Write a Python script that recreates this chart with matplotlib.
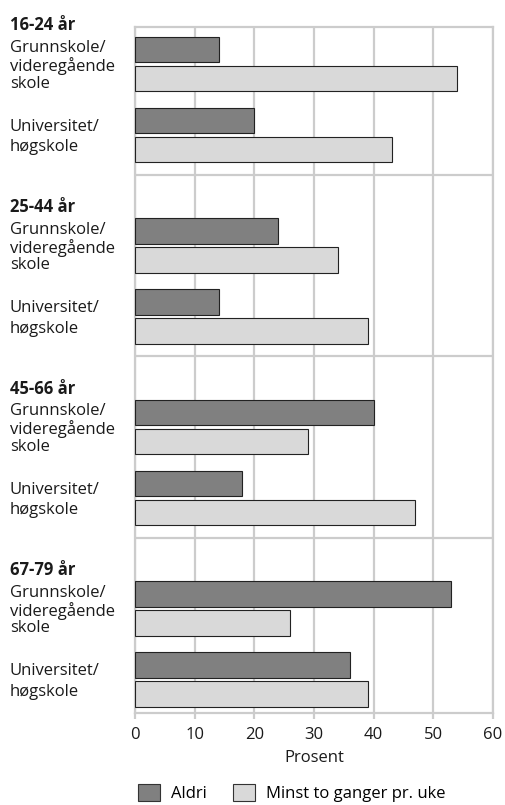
import matplotlib
matplotlib.use('Agg')
import matplotlib.pyplot as plt
import matplotlib.patches as patches
import matplotlib.transforms as transforms

plt.rcParams['font.family'] = ['Open Sans', 'DejaVu Sans']

# data
age_groups = ['16-24 år', '25-44 år', '45-66 år', '67-79 år']
education = ['Grunnskole/\nvideregående\nskole', 'Universitet/\nhøgskole']
series_names = ['Aldri', 'Minst to ganger pr. uke']
# verdier per aldersgruppe: [grunnskole, universitet]
aldri = [14, 20, 24, 14, 40, 18, 53, 36]
minst = [54, 43, 34, 39, 29, 47, 26, 39]
x_ticks = [0, 10, 20, 30, 40, 50, 60]

# farger
color_aldri = '#808080'
color_minst = '#d9d9d9'
grid_color = '#cccccc'
text_color = '#1a1a1a'

# layout (enheter ~ piksler langs y)
W, H = 506, 805
ax_left, ax_right, ax_top, ax_bottom = 135, 493, 27, 713
group_step = 181.5
first_center = 22.5
bar_offsets = [0, 29, 71, 100]   # aldri/minst for grunnskole, aldri/minst for universitet
bar_h = 25.5
font_size = 12

fig = plt.figure(figsize=(W / 100, H / 100), dpi=100)
ax = fig.add_axes([ax_left / W, 1 - ax_bottom / H,
                   (ax_right - ax_left) / W, (ax_bottom - ax_top) / H])

values = [aldri, minst]
colors = [color_aldri, color_minst]
label_tr = transforms.blended_transform_factory(fig.transFigure, ax.transData)

for g, group in enumerate(age_groups):
    base = first_center + g * group_step
    for e in range(len(education)):
        idx = g * len(education) + e
        for s in range(2):
            y = base + bar_offsets[e * 2 + s]
            ax.barh(y, values[s][idx], height=bar_h, color=colors[s],
                    edgecolor='#222222', linewidth=0.8, zorder=3)
        pair_center = base + (bar_offsets[e * 2] + bar_offsets[e * 2 + 1]) / 2
        ax.text(10 / W, pair_center + 2, education[e], transform=label_tr,
                fontsize=font_size, color=text_color, ha='left', va='center',
                linespacing=1.05 if e == 0 else 1.38)
    # overskrift
    ax.text(10 / W, base - 19, group, transform=label_tr, fontsize=font_size,
            fontweight='bold', color=text_color, ha='left', va='baseline')
    # skillelinje mellom grupper
    if g > 0:
        ax.axhline(base - 56, color=grid_color, linewidth=1.6, zorder=1)

ax.set_xlim(0, 60)
ax.set_ylim(ax_bottom - ax_top, 0)
ax.set_xticks(x_ticks)
ax.set_yticks([])
ax.xaxis.grid(True, color=grid_color, linewidth=1.6, zorder=0)
ax.set_axisbelow(True)
for sp in ax.spines.values():
    sp.set_color(grid_color)
    sp.set_linewidth(1.6)
ax.tick_params(axis='x', length=4, width=1.6, color=grid_color, pad=6,
               labelsize=font_size, labelcolor=text_color)
ax.set_xlabel('Prosent', fontsize=font_size, color=text_color, labelpad=5)

handles = [patches.Patch(facecolor=c, edgecolor='#333333', linewidth=0.8) for c in colors]
fig.legend(handles, series_names, loc='center', bbox_to_anchor=(292 / W, 1 - 793 / H),
           ncol=2, frameon=False, fontsize=font_size, handlelength=1.32,
           handleheight=1.25, handletextpad=0.66, columnspacing=1.56, borderpad=0)

fig.savefig('out.png', dpi=100)
